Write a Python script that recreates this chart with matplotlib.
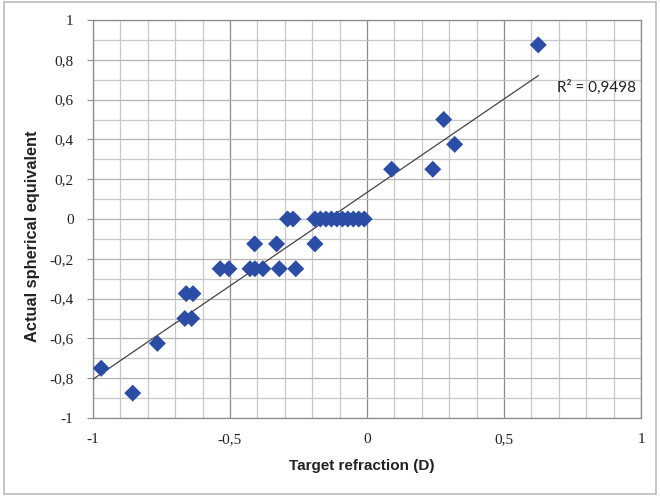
import matplotlib
matplotlib.use("Agg")
import matplotlib.pyplot as plt
from matplotlib.ticker import MultipleLocator, FuncFormatter
from matplotlib.patches import Rectangle
import numpy as np

# Data (target refraction, actual spherical equivalent)
x_vals = [0.625, 0.28, 0.32, 0.09, 0.24,
          -0.29, -0.27,
          -0.19, -0.17, -0.15, -0.13, -0.11, -0.09, -0.07, -0.05, -0.03, -0.01,
          -0.41, -0.33, -0.19,
          -0.536, -0.504, -0.427, -0.409, -0.38, -0.32, -0.26,
          -0.66, -0.635,
          -0.665, -0.64,
          -0.765, -0.97, -0.855]
y_vals = [0.875, 0.5, 0.375, 0.25, 0.25,
          0, 0,
          0, 0, 0, 0, 0, 0, 0, 0, 0, 0,
          -0.125, -0.125, -0.125,
          -0.25, -0.25, -0.25, -0.25, -0.25, -0.25, -0.25,
          -0.375, -0.375,
          -0.5, -0.5,
          -0.625, -0.75, -0.875]
r2_label = "R² = 0,9498"
x_label = "Target refraction (D)"
y_label = "Actual spherical equivalent"

fig = plt.figure(figsize=(6.6, 4.96), dpi=100)
ax = fig.add_axes([93/660, 1-418/496, (641-93)/660, (418-20)/496])

ax.set_xlim(-1, 1)
ax.set_ylim(-1, 1)

ax.xaxis.set_major_locator(MultipleLocator(0.5))
ax.xaxis.set_minor_locator(MultipleLocator(0.1))
ax.yaxis.set_major_locator(MultipleLocator(0.2))
ax.yaxis.set_minor_locator(MultipleLocator(0.1))

ax.grid(which='minor', color='#c8c8c8', linewidth=0.9)
ax.grid(which='major', axis='y', color='#b4b4b4', linewidth=0.9)
ax.grid(which='major', axis='x', color='#8a8a8a', linewidth=0.9)
ax.set_axisbelow(True)

for s in ax.spines.values():
    s.set_color('#8a8a8a')
    s.set_linewidth(0.9)

def fmt(v, pos):
    s = f"{v:.1f}".rstrip('0').rstrip('.')
    if s in ("-0",):
        s = "0"
    return s.replace('.', ',')

ax.xaxis.set_major_formatter(FuncFormatter(fmt))
ax.yaxis.set_major_formatter(FuncFormatter(fmt))
ax.tick_params(which='major', axis='y', length=4, color='#8a8a8a', pad=10)
ax.tick_params(which='major', axis='x', length=0, pad=11)
ax.tick_params(which='minor', length=0)
for lab in ax.get_xticklabels() + ax.get_yticklabels():
    lab.set_fontfamily('Liberation Serif')
    lab.set_fontsize(11)
    lab.set_color('#222222')

# trend line
xa = np.array(x_vals)
ya = np.array(y_vals)
m, b = np.polyfit(xa, ya, 1)
xl = np.array([-1.0, xa.max()])
ax.plot(xl, m*xl + b, color='#444444', linewidth=0.9, zorder=3)

ax.scatter(xa, ya, marker='D', s=75, color='#2B4DA6', edgecolors='none', zorder=4)

ax.text(0.693, 0.66, r2_label, fontfamily='Lato', fontsize=11, color='#222222',
        ha='left', va='center')

fig.text(362/660, 1-466/496, x_label, fontfamily='Liberation Sans', fontweight='bold',
         fontsize=11, ha='center', va='center', color='#222222')
fig.text(33/660, 1-236/496, y_label, fontfamily='Liberation Sans', fontweight='bold',
         fontsize=11.8, ha='center', va='center', rotation=90, color='#222222')

fig.patches.append(Rectangle((4/660, 2/496), 652/660, 492/496, transform=fig.transFigure,
                             fill=False, edgecolor='#bcbcbc', linewidth=1.2))

fig.savefig('out.png', dpi=100)
